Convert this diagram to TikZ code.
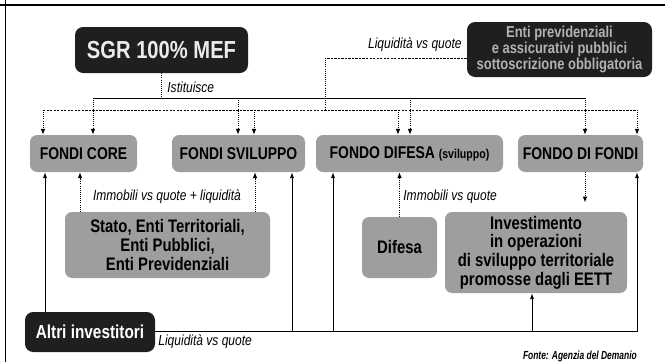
\documentclass[tikz,border=0pt]{standalone}
\usepackage{fontspec}
\setmainfont{Liberation Sans}
\newfontfamily\condfont{Liberation Sans}[FakeStretch=0.82]
\newfontfamily\narrowfont{Liberation Sans}[FakeStretch=0.72]
\usetikzlibrary{positioning}
\usetikzlibrary{arrows.meta}
\tikzset{
    darknode/.style = {rectangle, rounded corners=7pt, fill=black!88, text=black!8, align=center, inner sep=0pt, font=\condfont\bfseries},
    greynode/.style = {rectangle, rounded corners=6pt, fill=black!38, text=black, align=center, inner sep=0pt, font=\condfont\bfseries\fontsize{15.5}{16}\selectfont},
    fundnode/.style = {greynode, minimum height=37*0.03cm, font=\condfont\bfseries\fontsize{14.5}{16}\selectfont},
    lbl/.style = {inner sep=1pt, font=\condfont\itshape\fontsize{12.5}{14}\selectfont},
    edgen/.style = {-, line width=0.7pt, black},
    edgena/.style = {edgen, -{Latex[length=5pt,width=3.5pt]}},
    edged/.style = {-, line width=0.8pt, black, densely dotted},
    edgeda/.style = {edged, -{Latex[length=5pt,width=4pt]}},
    edgeq/.style = {-, line width=0.6pt, black, dash pattern=on 2pt off 1pt}
}
\begin{document}
\begin{tikzpicture}[x=0.03cm, y=-0.03cm]
\path[use as bounding box] (0,0) rectangle (665,362);
% frame
\draw[line width=1.8pt] (0,5) -- (665,5);
\draw[line width=0.6pt] (5,0) -- (5,362);
%
\node[darknode, minimum width=173*0.03cm, minimum height=46*0.03cm, font=\condfont\bfseries\fontsize{21}{22}\selectfont] (sgr) at (161.5,50) {SGR 100\% MEF};
\node[darknode, minimum width=185*0.03cm, minimum height=55*0.03cm, text=black!30, font=\condfont\bfseries\fontsize{13.5}{13.5}\selectfont] (enti) at (559.5,49.5) {Enti previdenziali\\e assicurativi pubblici\\sottoscrizione obbligatoria};
%
\node[fundnode, minimum width=107*0.03cm] (core) at (83.5,153.5) {FONDI CORE};
\node[fundnode, minimum width=133*0.03cm] (svil) at (238.5,153.5) {FONDI SVILUPPO};
\node[fundnode, minimum width=187*0.03cm] (difesa) at (409.5,153.5) {FONDO DIFESA {\fontsize{11}{12}\selectfont(sviluppo)}};
\node[fundnode, minimum width=125*0.03cm] (fdf) at (580.5,153.5) {FONDO DI FONDI};
%
\node[greynode, minimum width=205*0.03cm, minimum height=66*0.03cm] (stato) at (167.5,245) {Stato, Enti Territoriali,\\Enti Pubblici,\\Enti Previdenziali};
\node[greynode, minimum width=75*0.03cm, minimum height=61*0.03cm] (dif) at (399.5,247.5) {Difesa};
\node[greynode, minimum width=182*0.03cm, minimum height=81*0.03cm] (inv) at (536,252.5) {Investimento\\in operazioni\\di sviluppo territoriale\\promosse dagli EETT};
\node[darknode, minimum width=130*0.03cm, minimum height=40*0.03cm, text=white, font=\condfont\bfseries\fontsize{16}{18}\selectfont] (altri) at (90,332) {Altri investitori};
%
% istituisce
\coordinate (i1) at (93,98);
\coordinate (i2) at (238,98);
\coordinate (i3) at (410,98);
\coordinate (i4) at (585,98);
\draw[edged] (sgr.south) -- (sgr.south |- i1);
\draw[edgen] (i1) -- (i4);
\draw[edgeda] (i1) -- (i1 |- core.north);
\draw[edgeda] (i2) -- (i2 |- svil.north);
\draw[edgeda] (i3) -- (i3 |- difesa.north);
\draw[edgeda] (i4) -- (i4 |- fdf.north);
\node[lbl, anchor=west] (ist) at (166,87) {Istituisce};
%
% liquidita
\coordinate (lq) at (325,58);
\coordinate (l0) at (325,110);
\coordinate (l1) at (43,110);
\coordinate (l2) at (254,110);
\coordinate (l3) at (398,110);
\coordinate (l4) at (637,110);
\draw[edgeq] (enti.west |- lq) -- (lq);
\draw[edged] (lq) -- (l0);
\draw[edgeq] (l1) -- (l4);
\draw[edgeda] (l1) -- (l1 |- core.north);
\draw[edgeda] (l2) -- (l2 |- svil.north);
\draw[edgeda] (l3) -- (l3 |- difesa.north);
\draw[edgeda] (l4) -- (l4 |- fdf.north);
\node[lbl, anchor=east] (liq) at (463,45) {Liquidità vs quote};
%
% apporti
\coordinate (bl) at (80,0);
\coordinate (br) at (255,0);
\draw[edgeda] (stato.north -| bl) -- (bl |- core.south);
\draw[edgeda] (stato.north -| br) -- (br |- svil.south);
\node[lbl] (imm) at (167,197) {Immobili vs quote + liquidità};
\draw[edgeda] (dif.north) -- (dif.north |- difesa.south);
\node[lbl, anchor=west] (immd) at (402,197) {Immobili vs quote};
\draw[edgeda, shorten >=8pt] (i4 |- fdf.south) -- (i4 |- inv.north);
%
% altri investitori
\coordinate (a1) at (45,0);
\coordinate (b0) at (637,331);
\coordinate (b1) at (292,331);
\coordinate (b2) at (333,331);
\coordinate (b3) at (532,331);
\draw[edgena] (altri.north -| a1) -- (a1 |- core.south);
\draw[edgena] (altri.east |- b0) -- (b0) -- (b0 |- fdf.south);
\draw[edgena] (b1) -- (b1 |- svil.south);
\draw[edgena] (b2) -- (b2 |- difesa.south);
\draw[edgena] (b3) -- (b3 |- inv.south);
\node[lbl, anchor=west] (liqb) at (157,342) {Liquidità vs quote};
\node[anchor=east, inner sep=0pt, font=\narrowfont\bfseries\itshape\fontsize{10}{12}\selectfont] (fonte) at (637,356) {Fonte: Agenzia del Demanio};
\end{tikzpicture}
\end{document}
